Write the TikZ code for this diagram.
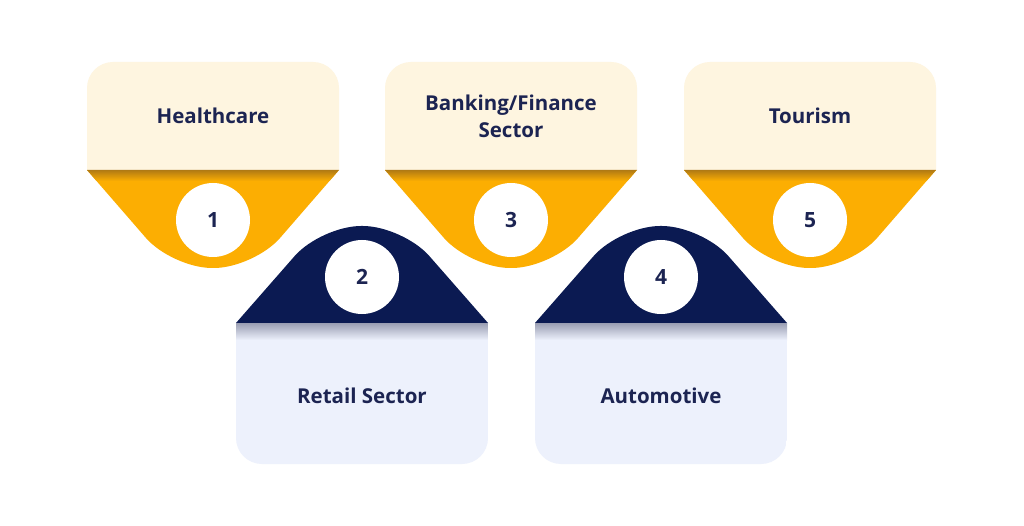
\documentclass[tikz,border=0pt]{standalone}
\usepackage{fontspec}
\setmainfont{Open Sans}
\definecolor{cream}{HTML}{FEF5E0}
\definecolor{gold}{HTML}{FCAE02}
\definecolor{goldshadow}{HTML}{B07A14}
\definecolor{navy}{HTML}{0B1A52}
\definecolor{lightcard}{HTML}{EDF1FC}
\definecolor{greyshadow}{HTML}{9A9EB3}
\definecolor{txt}{HTML}{1C2452}
\begin{document}
\begin{tikzpicture}[x=1pt,y=-1pt,
  label/.style={font=\bfseries\fontsize{20.5}{27}\selectfont, text=txt, align=center},
  num/.style={circle, fill=white, minimum size=74pt, inner sep=0pt, font=\bfseries\fontsize{21}{24}\selectfont, text=txt}]
\useasboundingbox (0,0) rectangle (1024,526);
\fill[white] (0,0) rectangle (1024,526);
% top cards
\foreach \cx/\n/\t/\nm in {213/1/Healthcare/a,511/3/{Banking/Finance\\Sector}/c,810/5/Tourism/e}{
  \pgfmathsetmacro\xa{\cx-126}
  \pgfmathsetmacro\xb{\cx+126}
  \pgfmathsetmacro\xc{\cx-41}
  \pgfmathsetmacro\xd{\cx+41}
  \fill[cream] (\xa,170) [rounded corners=26] -- (\xa,62) -- (\xb,62) [sharp corners] -- (\xb,170) -- cycle;
  \begin{scope}
    \clip (\xa,170) -- (\xb,170) [rounded corners=40] -- (\xd,268) -- (\xc,268) [sharp corners] -- cycle;
    \fill[gold] (\xa,170) rectangle (\xb,270);
    \shade[top color=goldshadow, bottom color=gold] (\xa,170) rectangle (\xb,181);
  \end{scope}
  \node[num] (n\nm) at (\cx,220) {\n};
  \node[label] (t\nm) at (\cx,116) {\t};
}
% bottom cards
\foreach \cx/\n/\t/\nm in {362/2/Retail Sector/b,661/4/Automotive/d}{
  \pgfmathsetmacro\xa{\cx-126}
  \pgfmathsetmacro\xb{\cx+126}
  \pgfmathsetmacro\xc{\cx-41}
  \pgfmathsetmacro\xd{\cx+41}
  \fill[navy] (\xa,323) -- (\xb,323) [rounded corners=40] -- (\xd,226) -- (\xc,226) [sharp corners] -- cycle;
  \begin{scope}
    \clip (\xa,323) -- (\xb,323) [rounded corners=26] -- (\xb,464) -- (\xa,464) [sharp corners] -- cycle;
    \fill[lightcard] (\xa,323) rectangle (\xb,466);
    \shade[top color=greyshadow, bottom color=lightcard] (\xa,323) rectangle (\xb,340);
  \end{scope}
  \node[num] (n\nm) at (\cx,277) {\n};
  \node[label] (t\nm) at (\cx,396) {\t};
}
\end{tikzpicture}
\end{document}
